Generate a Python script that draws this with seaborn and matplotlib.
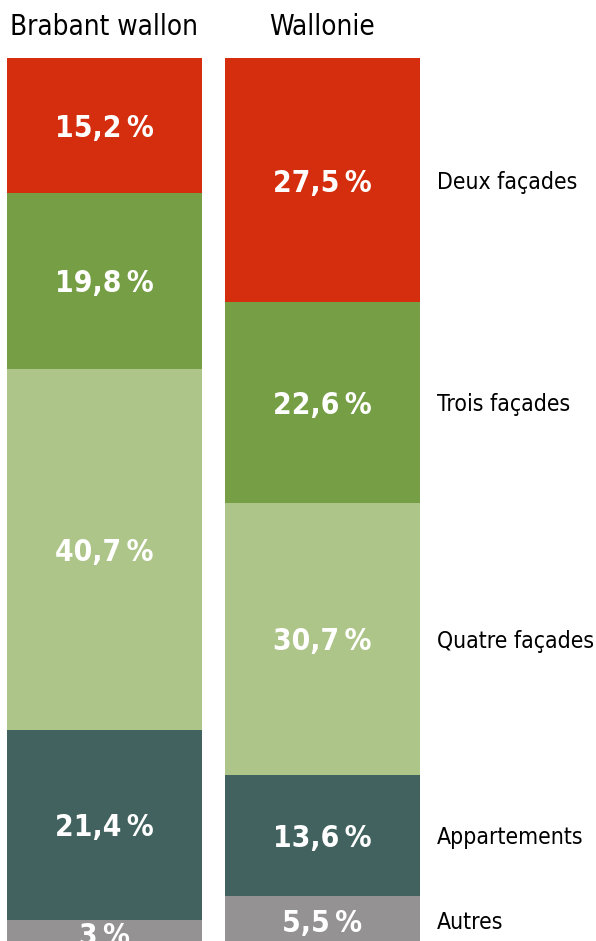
import matplotlib
matplotlib.use("Agg")
import matplotlib.pyplot as plt
import seaborn as sns
import pandas as pd
import numpy as np

# ---- data ----
regions = ["Brabant wallon", "Wallonie"]
categories = ["Deux façades", "Trois façades", "Quatre façades", "Appartements", "Autres"]
brabant_values = [15.2, 19.8, 40.7, 21.4, 3.0]
wallonie_values = [27.5, 22.6, 30.7, 13.6, 5.5]
brabant_labels = ["15,2\u2009%", "19,8\u2009%", "40,7\u2009%", "21,4\u2009%", "3\u2009%"]
wallonie_labels = ["27,5\u2009%", "22,6\u2009%", "30,7\u2009%", "13,6\u2009%", "5,5\u2009%"]
colors = ["#D52E0E", "#759E45", "#ADC589", "#41625F", "#949293"]

sns.set_theme(style="white")
FONT = "DejaVu Sans"
STRETCH = "condensed"
plt.rcParams["font.family"] = [FONT]

W, H = 596, 941
fig = plt.figure(figsize=(W / 100, H / 100), dpi=100)
top_px = 58
ax = fig.add_axes([0, 0, 1, (H - top_px) / H])

px_per_unit_x = 218.0
center0_px = 104.5
xmin = -center0_px / px_per_unit_x

values = [brabant_values, wallonie_values]
cums = [np.cumsum(v) for v in values]

# draw cumulative bars, largest first so smaller ones overlay
for i in range(len(categories) - 1, -1, -1):
    df = pd.DataFrame({"region": regions, "cum": [cums[0][i], cums[1][i]]})
    sns.barplot(data=df, x="region", y="cum", color=colors[i], saturation=1,
                width=195 / 218, errorbar=None, ax=ax, linewidth=0)

ax.set_xlim(xmin, xmin + W / px_per_unit_x)
px_per_pct = 8.875
ax.set_ylim((H - top_px) / px_per_pct, 0)
ax.axis("off")

# value labels
for r, (vals, labs) in enumerate(zip(values, [brabant_labels, wallonie_labels])):
    starts = np.concatenate([[0], np.cumsum(vals)[:-1]])
    for s, v, lab in zip(starts, vals, labs):
        ax.text(r, s + v / 2, lab, ha="center", va="center_baseline", color="white",
                fontsize=21.5, fontweight="bold", fontstretch=STRETCH,
                clip_on=True)

# category labels aligned to Wallonie segments
starts_w = np.concatenate([[0], np.cumsum(wallonie_values)[:-1]])
label_x = (437 - center0_px) / px_per_unit_x
for s, v, cat in zip(starts_w, wallonie_values, categories):
    ax.text(label_x, s + v / 2, cat, ha="left", va="center_baseline", color="black",
            fontsize=16.5, fontstretch=STRETCH, clip_on=False)

# headers
for r, reg in enumerate(regions):
    xc = (center0_px + r * px_per_unit_x) / W
    fig.text(xc, 1 - 27 / H, reg, ha="center", va="center", color="black",
             fontsize=20, fontstretch=STRETCH)

fig.savefig("out.png", dpi=100)
